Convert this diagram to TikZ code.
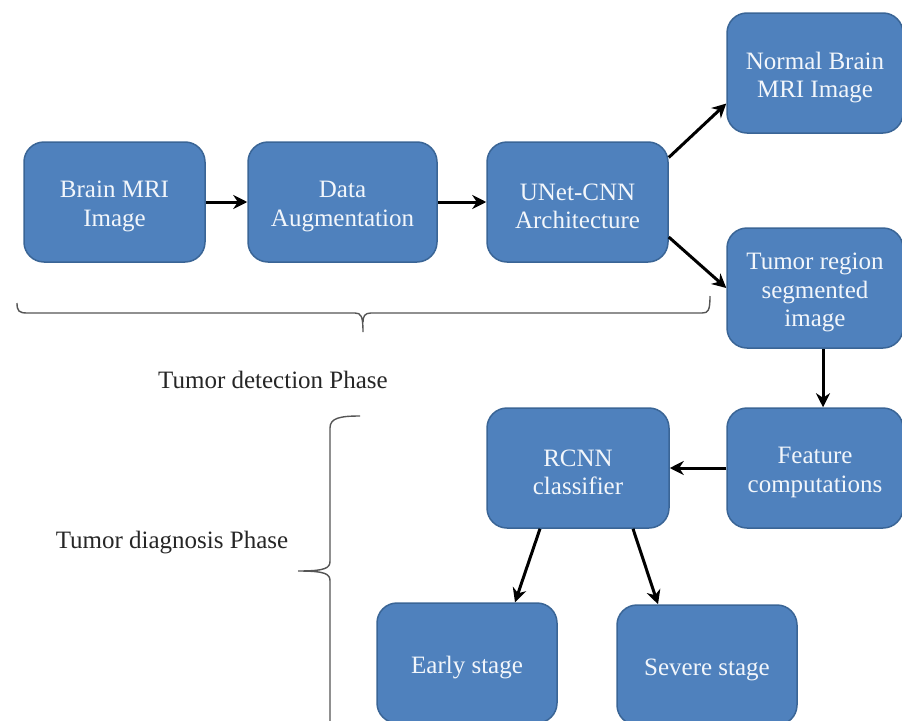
\documentclass[tikz,border=0pt]{standalone}
\usepackage{fontspec}
\setmainfont{Liberation Serif}
\usetikzlibrary{arrows.meta}
\definecolor{boxfill}{HTML}{4F81BD}
\definecolor{boxline}{HTML}{3A6596}
\definecolor{boxtext}{HTML}{F2F6FB}
\definecolor{bracegray}{HTML}{555555}
\tikzset{
  stagebox/.style={draw=boxline, line width=1.5pt, fill=boxfill, rounded corners=20pt, inner sep=0pt},
  boxlabel/.style={text=boxtext, align=center, font=\fontsize{25}{28.5}\selectfont, inner sep=0pt, yshift=-4.5pt},
  flowarrow/.style={line width=3pt, -{Stealth[length=14pt,width=14pt,inset=4.5pt]}},
  bracepath/.style={draw=bracegray, line width=1.4pt},
  phaselabel/.style={font=\fontsize{25}{28}\selectfont, text=black!85}
}
\begin{document}
\begin{tikzpicture}[x=1pt,y=-1pt]
\useasboundingbox (0,0) rectangle (902,720);
\begin{scope}
\clip (0,0) rectangle (902,720);
\node[stagebox, minimum width=181pt, minimum height=120pt, label={[boxlabel]center:Brain MRI\\Image}] (b1) at (114.5,202) {};
\node[stagebox, minimum width=189pt, minimum height=120pt, label={[boxlabel]center:Data\\Augmentation}] (b2) at (342.5,202) {};
\node[stagebox, minimum width=181pt, minimum height=120pt, label={[boxlabel]center:UNet-CNN\\Architecture}] (b3) at (577.5,202) {};
\node[stagebox, minimum width=176pt, minimum height=120pt, label={[boxlabel]center:Normal Brain\\MRI Image}] (n) at (815,73) {};
\node[stagebox, minimum width=176pt, minimum height=120pt, label={[boxlabel]center:Tumor region\\segmented\\image}] (t) at (815,288) {};
\node[stagebox, minimum width=176pt, minimum height=120pt, label={[boxlabel]center:Feature\\computations}] (f) at (815,468) {};
\node[stagebox, minimum width=182pt, minimum height=120pt, label={[boxlabel]center:RCNN\\classifier}] (r) at (578,468) {};
\node[stagebox, minimum width=180pt, minimum height=120pt, label={[boxlabel]center:Early stage}] (e) at (467,663) {};
\node[stagebox, minimum width=180pt, minimum height=120pt, label={[boxlabel]center:Severe stage}] (s) at (707,665) {};

\draw[flowarrow] (b1.east) -- (b2.west);
\draw[flowarrow] (b2.east) -- (b3.west);
\draw[flowarrow] (b3.26) -- (n.199);
\draw[flowarrow] (b3.-21) -- (t.west);
\draw[flowarrow] ([xshift=8]t.south) -- ([xshift=8]f.north);
\draw[flowarrow] (f.west) -- (r.east);
\draw[flowarrow] ([xshift=-38]r.south) -- ([xshift=48]e.north);
\draw[flowarrow] ([xshift=55]r.south) -- ([xshift=-49]s.north);

% top brace
\coordinate (tbL) at (17,303);
\coordinate (tbTip) at (363,332);
\coordinate (tbR) at (710,296);
\draw[bracepath] (tbL) .. controls (17,311) and (19,313) .. (27,313)
  -- (355,313) .. controls (361,313) and (363,316) .. (tbTip)
  (363,322) .. controls (363,316) and (365,313) .. (371,313)
  -- (702,313) .. controls (708,313) and (710,311) .. (tbR);
\node[phaselabel] (detlabel) at (273,380) {Tumor detection Phase};

% left brace
\coordinate (lbT) at (360,416);
\coordinate (lbTip) at (298,571);
\coordinate (lbB) at (330,730);
\draw[bracepath] (lbT) .. controls (340,416) and (330,418) .. (330,428)
  -- (330,561) .. controls (330,568) and (326,571) .. (lbTip)
  (lbTip) .. controls (326,571) and (330,574) .. (330,581)
  -- (lbB);
\node[phaselabel] (diaglabel) at (172,543) {Tumor diagnosis Phase};
\end{scope}
\end{tikzpicture}
\end{document}
